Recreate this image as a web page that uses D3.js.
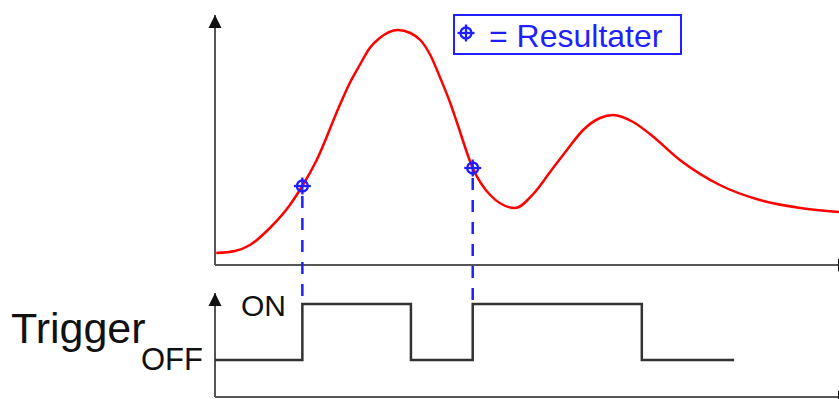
<!DOCTYPE html>
<html>
<head>
<meta charset="utf-8">
<script src="https://cdn.jsdelivr.net/npm/d3@7/dist/d3.min.js"></script>
<style>
  html, body { margin: 0; padding: 0; background: #fff; }
  svg { display: block; font-family: "Liberation Sans", Arial, sans-serif; }
</style>
</head>
<body>
<svg id="chart" width="839" height="399"></svg>
<script>
// Signal samples: time and amplitude
const signalTime  = [0.02, 0.32, 0.56, 0.88, 1.20, 1.40, 1.63, 2.00, 2.16, 2.32, 2.48, 2.64, 2.93, 3.13, 3.29, 3.45, 3.61, 3.77, 3.88, 4.13, 4.41, 4.81, 5.10, 5.37, 5.64, 5.90, 6.17, 6.38, 6.70, 6.97, 7.45, 8.09, 8.73, 9.38, 10.0];
const signalValue = [0.48, 0.56, 0.80, 1.48, 2.40, 3.16, 4.20, 6.40, 7.28, 8.00, 8.68, 9.08, 9.40, 9.28, 9.00, 8.40, 7.48, 6.48, 5.68, 3.88, 2.80, 2.28, 2.84, 3.72, 4.60, 5.40, 5.88, 6.00, 5.72, 5.24, 4.20, 3.20, 2.60, 2.28, 2.12];

// Trigger state changes (0 = OFF, 1 = ON)
const triggerTime  = [0, 1.40, 3.14, 4.13, 6.84, 8.32];
const triggerState = [0, 1, 0, 1, 0, 0];

// Sampled results, taken when the trigger switches on
const resultTime  = [1.40, 4.13];
const resultValue = [3.16, 3.88];

const legendText = "= Resultater";
const triggerLabel = "Trigger";
const stateLabels = ["OFF", "ON"];

const svg = d3.select("#chart");
const blue = "#1f1fff";
const axisColor = "#555";

const x = d3.scaleLinear().domain([0, 10]).range([215, 839]);
const y = d3.scaleLinear().domain([0, 10]).range([265, 15]);
const yT = d3.scaleLinear().domain([0, 1]).range([360, 304]);

// Arrowhead marker
const defs = svg.append("defs");
defs.append("marker")
  .attr("id", "arrow")
  .attr("viewBox", "0 0 10 10")
  .attr("refX", 10).attr("refY", 5)
  .attr("markerUnits", "userSpaceOnUse")
  .attr("markerWidth", 13).attr("markerHeight", 14)
  .attr("orient", "auto")
  .append("path")
  .attr("d", "M0,0L10,5L0,10Z")
  .attr("fill", "#111");

function axisLine(x1, y1, x2, y2) {
  svg.append("line")
    .attr("x1", x1).attr("y1", y1).attr("x2", x2).attr("y2", y2)
    .attr("stroke", axisColor).attr("stroke-width", 2)
    .attr("marker-end", "url(#arrow)");
}

// Upper plot axes
axisLine(x(0), y(0), x(0), y(10));
axisLine(x(0), y(0), x(10) + 12, y(0));

// Lower plot axes
axisLine(x(0), 397, x(0), 293);
axisLine(x(0), 397, x(10) + 12, 397);

// Trigger step signal
const trig = triggerTime.map((t, i) => ({ t, s: triggerState[i] }));
svg.append("path")
  .datum(trig)
  .attr("fill", "none")
  .attr("stroke", "#333")
  .attr("stroke-width", 2.5)
  .attr("d", d3.line().x(d => x(d.t)).y(d => yT(d.s)).curve(d3.curveStepAfter));

// Dashed guides from results down to the trigger
const results = resultTime.map((t, i) => ({ t, v: resultValue[i] }));
svg.selectAll(".guide")
  .data(results)
  .join("line")
  .attr("class", "guide")
  .attr("x1", d => x(d.t)).attr("x2", d => x(d.t))
  .attr("y1", d => y(d.v) + 10).attr("y2", yT(1) - 1)
  .attr("stroke", blue)
  .attr("stroke-width", 2.5)
  .attr("stroke-dasharray", "12,10");

// Signal curve
const sig = signalTime.map((t, i) => ({ t, v: signalValue[i] }));
svg.append("path")
  .datum(sig)
  .attr("fill", "none")
  .attr("stroke", "#ff0000")
  .attr("stroke-width", 2.5)
  .attr("d", d3.line().x(d => x(d.t)).y(d => y(d.v)).curve(d3.curveMonotoneX));

// Result marker: circle with crosshair
function crosshair(g, cx, cy) {
  g.append("circle").attr("cx", cx).attr("cy", cy).attr("r", 5.5)
    .attr("fill", "none").attr("stroke", blue).attr("stroke-width", 2.3);
  g.append("line").attr("x1", cx - 8.5).attr("x2", cx + 8.5).attr("y1", cy).attr("y2", cy)
    .attr("stroke", blue).attr("stroke-width", 2.3);
  g.append("line").attr("x1", cx).attr("x2", cx).attr("y1", cy - 8.5).attr("y2", cy + 8.5)
    .attr("stroke", blue).attr("stroke-width", 2.3);
}
results.forEach(d => crosshair(svg.append("g"), x(d.t), y(d.v)));

// Legend
const lg = svg.append("g");
lg.append("rect").attr("x", 454).attr("y", 15).attr("width", 227).attr("height", 39)
  .attr("fill", "#fff").attr("stroke", blue).attr("stroke-width", 2);
crosshair(lg, 466, 33);
lg.append("text").attr("x", 489).attr("y", 47)
  .attr("font-size", 32).attr("fill", blue).text(legendText);

// Trigger labels
svg.append("text").attr("x", 11).attr("y", 343)
  .attr("font-size", 43).attr("fill", "#111").text(triggerLabel);
svg.append("text").attr("x", 141).attr("y", 370)
  .attr("font-size", 31).attr("fill", "#111").text(stateLabels[0]);
svg.append("text").attr("x", 241).attr("y", 316)
  .attr("font-size", 30).attr("fill", "#111").text(stateLabels[1]);
</script>
</body>
</html>
